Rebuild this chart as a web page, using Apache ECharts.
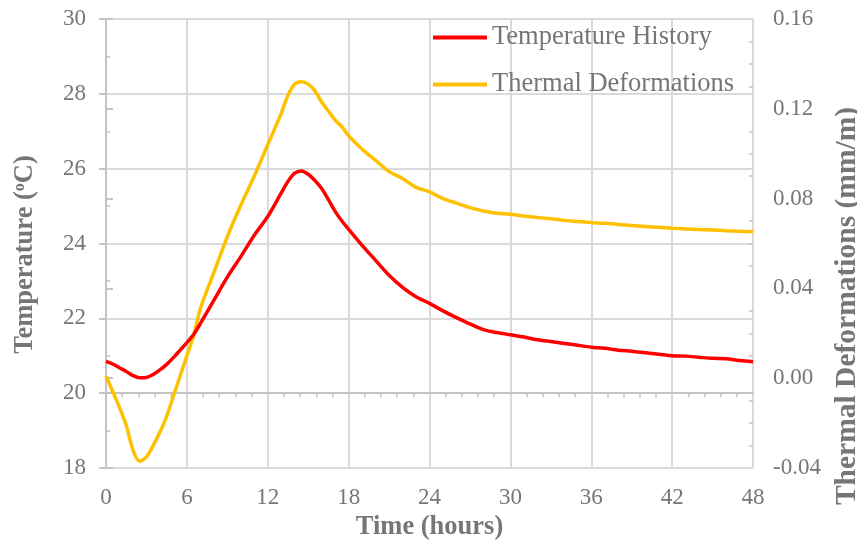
<!DOCTYPE html>
<html>
<head>
<meta charset="utf-8">
<script src="https://cdn.jsdelivr.net/npm/echarts@6/dist/echarts.min.js"></script>
<style>
  html, body { margin: 0; padding: 0; background: #ffffff; }
  #chart { width: 857px; height: 542px; }
</style>
</head>
<body>
<div id="chart"></div>
<script>
// Elapsed time (hours)
const hours = [
  0, 0.5, 1, 1.5, 2, 2.5, 3, 3.5, 4, 4.5, 5, 5.5, 6, 6.5, 7,
  8, 9, 10, 11, 12, 13,
  13.5, 14, 14.5, 15, 15.5, 16, 16.5, 17, 17.5, 18,
  19, 20, 21, 22, 23, 24, 25, 26, 27, 28, 29, 30, 31, 32, 33,
  34, 35, 36, 37, 38, 39, 40, 41, 42, 43, 44, 45, 46, 47, 48
];

// Temperature history (°C), left axis
const temperature = [
  20.85, 20.78, 20.68, 20.58, 20.47, 20.41, 20.42, 20.50, 20.62, 20.77, 20.95, 21.15, 21.35, 21.57, 21.86,
  22.48, 23.10, 23.65, 24.22, 24.72, 25.35,
  25.66, 25.88, 25.94, 25.85, 25.68, 25.47, 25.17, 24.86, 24.60, 24.38,
  23.95, 23.55, 23.15, 22.83, 22.58, 22.40, 22.20, 22.02, 21.85, 21.70, 21.62, 21.56, 21.50, 21.43, 21.38,
  21.33, 21.28, 21.23, 21.20, 21.15, 21.12, 21.08, 21.04, 21.00, 20.99, 20.96, 20.93, 20.92, 20.87, 20.84
];

// Thermal deformations (mm/m), right axis
const deformation = [
  0.001, -0.006, -0.013, -0.021, -0.032, -0.037, -0.035, -0.030, -0.024, -0.017, -0.008, 0.001, 0.010, 0.019, 0.031,
  0.047, 0.063, 0.077, 0.090, 0.104, 0.118,
  0.126, 0.131, 0.132, 0.131, 0.128, 0.123, 0.119, 0.115, 0.112, 0.108,
  0.102, 0.097, 0.092, 0.089, 0.085, 0.083, 0.080, 0.078, 0.076, 0.0745, 0.0735, 0.073, 0.0722, 0.0716, 0.071,
  0.0703, 0.0698, 0.0693, 0.069, 0.0685, 0.068, 0.0676, 0.0672, 0.0668, 0.0665, 0.0662, 0.066, 0.0657, 0.0655, 0.0652
];

const seriesNames = ['Temperature History', 'Thermal Deformations'];

const FONT = '"Liberation Serif", "Times New Roman", serif';
const TEXT = '#767676';
const GRID_LINE = '#dadada';
const AXIS_LINE = '#c4c4c4';

const tempPairs = hours.map((h, i) => [h, temperature[i]]);
const defPairs = hours.map((h, i) => [h, deformation[i]]);

const chart = echarts.init(document.getElementById('chart'), null, { renderer: 'canvas' });

const labelStyle = { color: TEXT, fontFamily: FONT, fontSize: 23 };
const boldName = { color: TEXT, fontFamily: FONT, fontSize: 26.5, fontWeight: 'bold' };

chart.setOption({
  animation: false,
  backgroundColor: '#ffffff',
  grid: { left: 106, right: 104, top: 19, bottom: 74, outerBoundsMode: 'none', containLabel: false },
  legend: {
    data: seriesNames,
    orient: 'vertical',
    left: 433,
    top: 24,
    padding: 0,
    icon: 'rect',
    itemWidth: 54,
    itemHeight: 4,
    itemGap: 20,
    textStyle: { color: TEXT, fontFamily: FONT, fontSize: 26.5 }
  },
  xAxis: [
    {
      // bottom axis carrying the hour labels and the vertical grid
      type: 'value',
      min: 0, max: 48, interval: 6,
      name: 'Time (hours)',
      nameLocation: 'middle',
      nameGap: 41,
      nameTextStyle: boldName,
      axisLine: { show: false },
      axisTick: { show: false },
      axisLabel: Object.assign({ margin: 18 }, labelStyle),
      splitLine: { show: true, lineStyle: { color: GRID_LINE, width: 2 } }
    },
    {
      // horizontal axis line crossing at 20 °C, with minor ticks
      type: 'value',
      min: 0, max: 48, interval: 6,
      axisLine: { show: true, onZero: true, onZeroAxisIndex: 2, lineStyle: { color: AXIS_LINE, width: 2 } },
      axisTick: { show: false, inside: true },
      minorTick: { show: true, splitNumber: 5, length: 4, lineStyle: { color: AXIS_LINE, width: 1.5 } },
      axisLabel: { show: false },
      splitLine: { show: false }
    }
  ],
  yAxis: [
    {
      type: 'value',
      position: 'left',
      min: 18, max: 30, interval: 2,
      name: 'Temperature ({sup|o}C)',
      nameLocation: 'middle',
      nameGap: 67,
      nameTextStyle: Object.assign({}, boldName, {
        padding: [0, 22, 0, 0],
        rich: {
          sup: { color: TEXT, fontFamily: FONT, fontSize: 16, fontWeight: 'bold', verticalAlign: 'top', padding: [0, 0, 10, 0] }
        }
      }),
      axisLine: { show: true, lineStyle: { color: AXIS_LINE, width: 2 } },
      axisTick: { show: true, length: 7, lineStyle: { color: AXIS_LINE, width: 2 } },
      axisLabel: Object.assign({ margin: 20 }, labelStyle),
      splitLine: { show: true, lineStyle: { color: GRID_LINE, width: 2 } }
    },
    {
      type: 'value',
      position: 'right',
      min: -0.04, max: 0.16, interval: 0.04,
      name: 'Thermal Deformations (mm/m)',
      nameLocation: 'middle',
      nameGap: 79,
      nameTextStyle: Object.assign({}, boldName, { fontSize: 29.5, padding: [0, 125, 0, 0] }),
      axisLine: { show: true, lineStyle: { color: AXIS_LINE, width: 2 } },
      axisTick: { show: true, length: 7, lineStyle: { color: AXIS_LINE, width: 2 } },
      axisLabel: Object.assign({ margin: 20, formatter: v => v.toFixed(2) }, labelStyle),
      splitLine: { show: false }
    },
    {
      // reference scale whose zero sits at 20 °C
      type: 'value',
      show: false,
      min: -2, max: 10
    },
    {
      // left minor ticks
      type: 'value',
      position: 'left',
      offset: 0,
      min: 18, max: 30, interval: 2,
      axisLine: { show: false },
      axisTick: { show: false, inside: true },
      minorTick: { show: true, splitNumber: 2, length: 4, lineStyle: { color: AXIS_LINE, width: 1.5 } },
      axisLabel: { show: false },
      splitLine: { show: false }
    },
    {
      // right minor ticks
      type: 'value',
      position: 'right',
      offset: 0,
      min: -0.04, max: 0.16, interval: 0.04,
      axisLine: { show: false },
      axisTick: { show: false, inside: true },
      minorTick: { show: true, splitNumber: 4, length: 4, lineStyle: { color: AXIS_LINE, width: 1.5 } },
      axisLabel: { show: false },
      splitLine: { show: false }
    }
  ],
  series: [
    {
      name: seriesNames[0],
      type: 'line',
      xAxisIndex: 0,
      yAxisIndex: 0,
      data: tempPairs,
      showSymbol: false,
      smooth: 0.3,
      color: '#ff0000',
      lineStyle: { color: '#ff0000', width: 3.5 },
      z: 3
    },
    {
      name: seriesNames[1],
      type: 'line',
      xAxisIndex: 0,
      yAxisIndex: 1,
      data: defPairs,
      showSymbol: false,
      smooth: 0.3,
      color: '#ffc000',
      lineStyle: { color: '#ffc000', width: 3.5 },
      z: 2
    }
  ]
});
</script>
</body>
</html>
